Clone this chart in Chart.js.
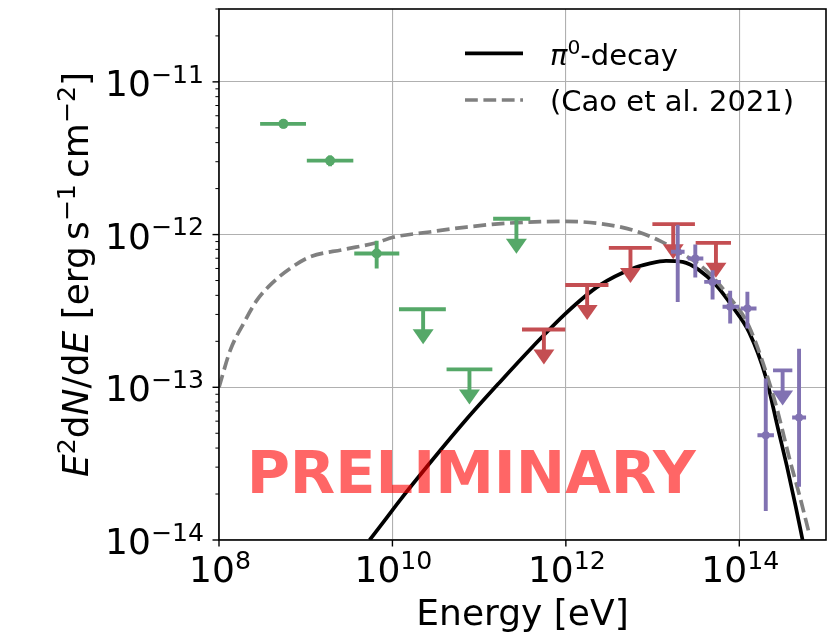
<!DOCTYPE html>
<html>
<head>
<meta charset="utf-8">
<script src="https://cdn.jsdelivr.net/npm/chart.js@4.4.1/dist/chart.umd.min.js"></script>
<style>
  html, body { margin: 0; padding: 0; background: #fff; }
  canvas { display: block; }
</style>
</head>
<body>
<canvas id="sed" width="831" height="634"></canvas>
<script>
"use strict";

// pi0-decay model (black solid)
var piE = [5.46e9, 7.94e9, 1.22e10, 2.95e10, 7.14e10, 1.73e11, 4.17e11, 9.84e11, 2.44e12, 5.90e12, 9.12e12,
           1.43e13, 2.22e13, 3.45e13, 5.38e13, 8.36e13, 1.30e14, 2.02e14, 2.82e14, 3.55e14, 4.47e14, 5.37e14];
var piF = [1.0e-14, 1.32e-14, 1.82e-14, 3.39e-14, 6.17e-14, 1.08e-13, 1.85e-13, 3.03e-13, 4.65e-13, 6.0e-13, 6.45e-13,
           6.73e-13, 6.62e-13, 5.85e-13, 4.67e-13, 3.37e-13, 2.29e-13, 1.17e-13, 5.25e-14, 3.02e-14, 1.66e-14, 1.0e-14];

// Cao et al. 2021 (grey dashed)
var caoE = [1e8, 1.35e8, 1.92e8, 2.74e8, 4.07e8, 6.61e8, 1.12e9, 2.72e9, 6.58e9, 1.02e10, 2.69e10, 7.14e10,
            2.25e11, 9.84e11, 2.44e12, 5.90e12, 1.20e13, 1.86e13, 4.12e13, 7.66e13, 1.30e14, 2.51e14, 3.93e14,
            5.01e14, 6.40e14];
var caoF = [1.0e-13, 1.75e-13, 2.62e-13, 3.72e-13, 4.79e-13, 6.0e-13, 7.14e-13, 7.98e-13, 8.85e-13, 9.6e-13,
            1.04e-12, 1.12e-12, 1.19e-12, 1.22e-12, 1.18e-12, 1.07e-12, 9.12e-13, 7.94e-13, 5.85e-13, 3.91e-13,
            2.49e-13, 8.51e-14, 3.16e-14, 1.91e-14, 1.10e-14];

// green points
var fermiE   = [5.53e8, 1.91e9, 6.58e9];
var fermiElo = [2.98e8, 1.03e9, 3.63e9];
var fermiEhi = [1.007e9, 3.54e9, 1.20e10];
var fermiF   = [5.31e-12, 3.05e-12, 7.52e-13];
var fermiFlo = [4.95e-12, 2.80e-12, 6.0e-13];
var fermiFhi = [5.70e-12, 3.30e-12, 9.1e-13];

// green upper limits
var fermiUlE   = [2.26e10, 7.73e10, 2.69e11];
var fermiUlElo = [1.19e10, 4.21e10, 1.45e11];
var fermiUlEhi = [4.13e10, 1.42e11, 3.89e11];
var fermiUlF   = [3.24e-13, 1.31e-13, 1.27e-12];

// red upper limits
var redUlE   = [5.58e11, 1.76e12, 5.56e12, 1.73e13, 5.38e13];
var redUlElo = [3.12e11, 9.84e11, 3.13e12, 9.95e12, 3.14e13];
var redUlEhi = [9.84e11, 3.10e12, 9.77e12, 3.08e13, 8.02e13];
var redUlF   = [2.39e-13, 4.67e-13, 8.18e-13, 1.17e-12, 8.83e-13];

// purple points
var purE   = [1.95e13, 3.11e13, 4.92e13, 7.85e13, 1.24e14, 2.02e14, 4.89e14];
var purElo = [1.63e13, 2.54e13, 3.94e13, 6.41e13, 1.04e14, 1.62e14, 4.07e14];
var purEhi = [2.34e13, 3.85e13, 6.14e13, 9.93e13, 1.58e14, 2.51e14, 5.89e14];
var purF   = [7.71e-13, 6.97e-13, 4.90e-13, 3.37e-13, 3.28e-13, 4.85e-14, 6.34e-14];
var purFlo = [3.62e-13, 5.24e-13, 3.76e-13, 2.62e-13, 2.43e-13, 1.55e-14, 2.23e-14];
var purFhi = [1.16e-12, 8.61e-13, 5.85e-13, 4.28e-13, 4.22e-13, 1.14e-13, 1.79e-13];

// purple upper limit
var purUlE   = [3.16e14];
var purUlElo = [2.45e14];
var purUlEhi = [4.09e14];
var purUlF   = [1.29e-13];

var xTicks = [1e8, 1e10, 1e12, 1e14];
var xTickExp = ['8', '10', '12', '14'];
var yTicks = [1e-14, 1e-13, 1e-12, 1e-11];
var yTickExp = ['\u221214', '\u221213', '\u221212', '\u221211'];

var legendLabels = ['-decay', '(Cao et al. 2021)'];
var watermark = 'PRELIMINARY';
var watermarkAt = { x: 8.1e10, y: 2.02e-14 };

var GREEN = '#55a868', RED = '#c44e52', PURPLE = '#8172b2', GREY = '#808080';
var FAM = '"DejaVu Sans"';
var LW = 3.7;      // curves
var EW = 3.9;      // error bars

function pts(xs, ys) {
  return xs.map(function(x, i) { return { x: x, y: ys[i] }; });
}

function fontFor(s, size) {
  var sz = s.sup ? size * 0.7 : size;
  return (s.it ? 'italic ' : '') + (s.bold ? 'bold ' : '') + sz + 'px ' + FAM;
}

function richWidth(ctx, segs, size) {
  var w = 0;
  segs.forEach(function(s) {
    ctx.font = fontFor(s, size);
    w += ctx.measureText(s.t).width + (s.pre || 0) * size;
  });
  return w;
}

function drawRich(ctx, segs, x, y, size, align) {
  var w = richWidth(ctx, segs, size);
  var cx = align === 'center' ? x - w / 2 : align === 'right' ? x - w : x;
  ctx.textAlign = 'left';
  ctx.textBaseline = 'alphabetic';
  segs.forEach(function(s) {
    ctx.font = fontFor(s, size);
    cx += (s.pre || 0) * size;
    ctx.fillText(s.t, cx, s.sup ? y - 0.37 * size : y);
    cx += ctx.measureText(s.t).width;
  });
}

function drawErrorBars(chart, color, E, Elo, Ehi, F, Flo, Fhi) {
  var ctx = chart.ctx, sx = chart.scales.x, sy = chart.scales.y;
  ctx.strokeStyle = color;
  ctx.lineWidth = EW;
  ctx.lineCap = 'butt';
  E.forEach(function(e, i) {
    var x = sx.getPixelForValue(e), y = sy.getPixelForValue(F[i]);
    ctx.beginPath();
    ctx.moveTo(sx.getPixelForValue(Elo[i]), y);
    ctx.lineTo(sx.getPixelForValue(Ehi[i]), y);
    ctx.moveTo(x, sy.getPixelForValue(Flo[i]));
    ctx.lineTo(x, sy.getPixelForValue(Fhi[i]));
    ctx.stroke();
  });
}

function drawLimits(chart, color, E, Elo, Ehi, F) {
  var ctx = chart.ctx, sx = chart.scales.x, sy = chart.scales.y;
  ctx.strokeStyle = color;
  ctx.fillStyle = color;
  ctx.lineWidth = EW;
  ctx.lineCap = 'butt';
  E.forEach(function(e, i) {
    var x = sx.getPixelForValue(e), y = sy.getPixelForValue(F[i]);
    ctx.beginPath();
    ctx.moveTo(sx.getPixelForValue(Elo[i]), y);
    ctx.lineTo(sx.getPixelForValue(Ehi[i]), y);
    ctx.moveTo(x, y);
    ctx.lineTo(x, y + 21);
    ctx.stroke();
    ctx.beginPath();
    ctx.moveTo(x - 10.5, y + 20);
    ctx.lineTo(x + 10.5, y + 20);
    ctx.lineTo(x, y + 35);
    ctx.closePath();
    ctx.fill();
  });
}

var overlay = {
  id: 'overlay',
  beforeDraw: function(chart) {
    var ctx = chart.ctx;
    ctx.save();
    ctx.fillStyle = '#fff';
    ctx.fillRect(0, 0, chart.width, chart.height);
    ctx.restore();
  },
  afterDatasetsDraw: function(chart) {
    var ctx = chart.ctx, a = chart.chartArea;
    ctx.save();
    ctx.beginPath();
    ctx.rect(a.left, a.top, a.right - a.left, a.bottom - a.top);
    ctx.clip();
    drawErrorBars(chart, GREEN, fermiE, fermiElo, fermiEhi, fermiF, fermiFlo, fermiFhi);
    drawLimits(chart, GREEN, fermiUlE, fermiUlElo, fermiUlEhi, fermiUlF);
    drawLimits(chart, RED, redUlE, redUlElo, redUlEhi, redUlF);
    drawErrorBars(chart, PURPLE, purE, purElo, purEhi, purF, purFlo, purFhi);
    drawLimits(chart, PURPLE, purUlE, purUlElo, purUlEhi, purUlF);

    // watermark
    ctx.fillStyle = 'rgba(255,0,0,0.6)';
    ctx.font = 'bold 59px ' + FAM;
    ctx.textAlign = 'center';
    ctx.textBaseline = 'alphabetic';
    ctx.fillText(watermark, chart.scales.x.getPixelForValue(watermarkAt.x),
                 chart.scales.y.getPixelForValue(watermarkAt.y));
    ctx.restore();
  },
  afterDraw: function(chart) {
    var ctx = chart.ctx, a = chart.chartArea, sx = chart.scales.x, sy = chart.scales.y;
    ctx.save();

    // frame
    ctx.strokeStyle = '#000';
    ctx.lineWidth = 1.6;
    ctx.strokeRect(a.left, a.top, a.right - a.left, a.bottom - a.top);

    // x ticks + labels
    ctx.fillStyle = '#000';
    ctx.lineWidth = 1.4;
    xTicks.forEach(function(v, i) {
      var x = sx.getPixelForValue(v);
      ctx.beginPath();
      ctx.moveTo(x, a.bottom);
      ctx.lineTo(x, a.bottom + 6.5);
      ctx.stroke();
      drawRich(ctx, [{ t: '10' }, { t: xTickExp[i], sup: 1 }], x + 1, a.bottom + 42, 36, 'center');
    });

    // y ticks (major + minor) + labels
    yTicks.forEach(function(v, i) {
      var y = sy.getPixelForValue(v);
      ctx.lineWidth = 1.4;
      ctx.beginPath();
      ctx.moveTo(a.left, y);
      ctx.lineTo(a.left - 6.5, y);
      ctx.stroke();
      drawRich(ctx, [{ t: '10' }, { t: yTickExp[i], sup: 1 }], a.left - 15, y + 14, 36, 'right');
      ctx.lineWidth = 1;
      for (var m = 2; m <= 9; m++) {
        var mv = v * m;
        if (mv > sy.max * 1.0001) break;
        var my = sy.getPixelForValue(mv);
        ctx.beginPath();
        ctx.moveTo(a.left, my);
        ctx.lineTo(a.left - 3.6, my);
        ctx.stroke();
      }
    });

    // axis titles
    drawRich(ctx, [{ t: 'Energy [eV]' }], (a.left + a.right) / 2, 625, 36, 'center');
    ctx.save();
    ctx.translate(88, (a.top + a.bottom) / 2);
    ctx.rotate(-Math.PI / 2);
    drawRich(ctx, [
      { t: 'E', it: 1 }, { t: '2', sup: 1 }, { t: 'd' }, { t: 'N', it: 1 }, { t: '/d' }, { t: 'E', it: 1 },
      { t: ' [erg' }, { t: 's', pre: 0.17 }, { t: '\u22121', sup: 1 }, { t: 'cm', pre: 0.17 },
      { t: '\u22122', sup: 1 }, { t: ']' }
    ], 0, 0, 36, 'center');
    ctx.restore();

    // legend
    ctx.lineWidth = LW;
    ctx.strokeStyle = '#000';
    ctx.beginPath();
    ctx.moveTo(465, 53.3);
    ctx.lineTo(523, 53.3);
    ctx.stroke();
    ctx.strokeStyle = GREY;
    ctx.setLineDash([12.8, 5.6]);
    ctx.beginPath();
    ctx.moveTo(465, 100);
    ctx.lineTo(523, 100);
    ctx.stroke();
    ctx.setLineDash([]);
    ctx.fillStyle = '#000';
    drawRich(ctx, [{ t: '\u03c0', it: 1 }, { t: '0', sup: 1 }, { t: legendLabels[0] }], 550, 65, 29, 'left');
    drawRich(ctx, [{ t: legendLabels[1] }], 550, 110.5, 29, 'left');

    ctx.restore();
  }
};

new Chart(document.getElementById('sed'), {
  type: 'scatter',
  data: {
    datasets: [
      { label: 'purple', data: pts(purE, purF), pointRadius: 4, pointBackgroundColor: PURPLE,
        pointBorderWidth: 0, showLine: false },
      { label: 'green', data: pts(fermiE, fermiF), pointRadius: 5, pointBackgroundColor: GREEN,
        pointBorderWidth: 0, showLine: false },
      { label: 'cao', type: 'line', data: pts(caoE, caoF), borderColor: GREY, borderWidth: LW,
        borderDash: [12.8, 5.6], pointRadius: 0, fill: false, cubicInterpolationMode: 'monotone' },
      { label: 'pi0', type: 'line', data: pts(piE, piF), borderColor: '#000', borderWidth: LW,
        pointRadius: 0, fill: false, cubicInterpolationMode: 'monotone' }
    ]
  },
  options: {
    responsive: false,
    animation: false,
    devicePixelRatio: 1,
    layout: { padding: { left: 219, top: 9, right: 4.3, bottom: 94 } },
    plugins: { legend: { display: false }, tooltip: { enabled: false } },
    scales: {
      x: {
        type: 'logarithmic', min: 1e8, max: 1e15,
        afterBuildTicks: function(axis) { axis.ticks = xTicks.map(function(v) { return { value: v }; }); },
        ticks: { display: false },
        grid: { color: '#b0b0b0', lineWidth: 1.1, drawTicks: false },
        border: { display: false }
      },
      y: {
        type: 'logarithmic', min: 1e-14, max: 3e-11,
        afterBuildTicks: function(axis) { axis.ticks = yTicks.map(function(v) { return { value: v }; }); },
        ticks: { display: false },
        grid: { color: '#b0b0b0', lineWidth: 1.1, drawTicks: false },
        border: { display: false }
      }
    }
  },
  plugins: [overlay]
});
</script>
</body>
</html>
